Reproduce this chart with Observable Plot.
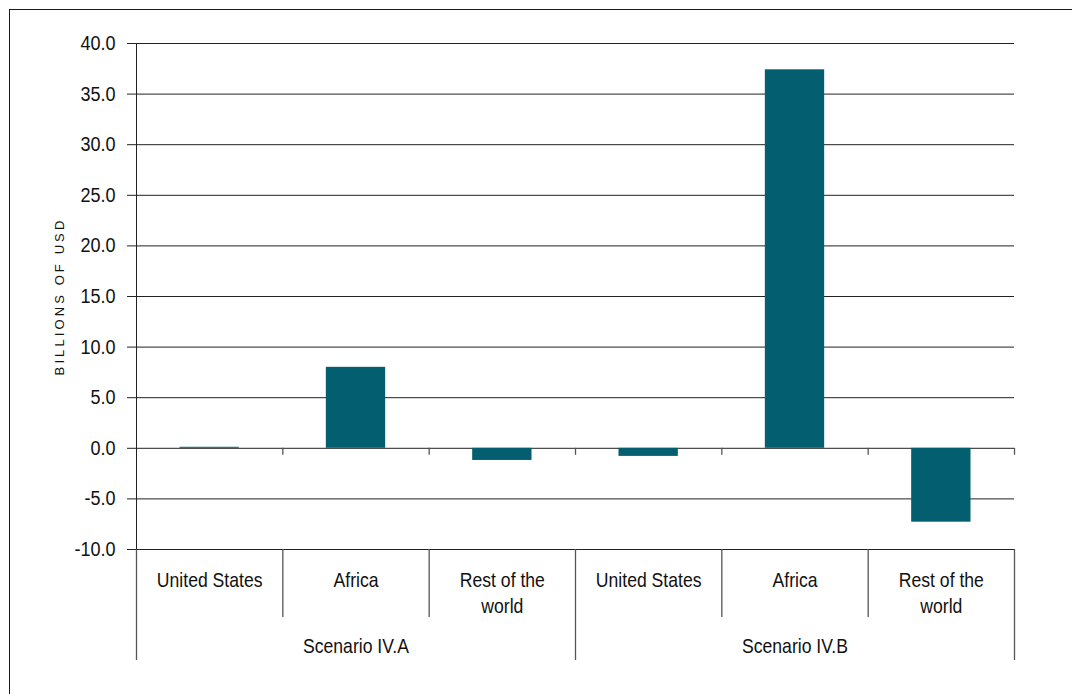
<!DOCTYPE html>
<html>
<head>
<meta charset="utf-8">
<script src="https://cdn.jsdelivr.net/npm/d3@7"></script>
<script src="https://cdn.jsdelivr.net/npm/@observablehq/plot@0.6"></script>
<style>
  html, body { margin: 0; padding: 0; background: #fff; overflow: hidden; }
  #wrap { position: relative; width: 1072px; height: 694px; }
  #border { position: absolute; left: 9px; top: 9px; width: 2000px; height: 2000px;
            border: 1.6px solid #1a1a1a; pointer-events: none; box-sizing: border-box; }
</style>
</head>
<body>
<div id="wrap"><div id="border"></div></div>
<script>
const scenarios = ["Scenario IV.A", "Scenario IV.B"];
const regions = ["United States", "Africa", "Rest of the\nworld"];
const valuesA = [0.1, 8.0, -1.2];
const valuesB = [-0.8, 37.4, -7.3];
const yTicks = [-10, -5, 0, 5, 10, 15, 20, 25, 30, 35, 40];
const yTitle = "BILLIONS OF USD";
const barColor = "#035f70";

const rows = [];
[valuesA, valuesB].forEach((vals, s) => {
  vals.forEach((v, r) => {
    rows.push({i: s * regions.length + r, scenario: scenarios[s], region: regions[r], value: v});
  });
});
const n = rows.length;
const boundaries = d3.range(0, n + 1);
const innerBounds = boundaries.filter(b => b % regions.length !== 0);
const groupBounds = boundaries.filter(b => b % regions.length === 0);
const centers = rows.map(d => d.i + 0.5);
const groupCenters = scenarios.map((s, k) => k * regions.length + regions.length / 2);

const font = '"Liberation Sans", Arial, sans-serif';

const chart = Plot.plot({
  width: 1072,
  height: 694,
  marginLeft: 136,
  marginRight: 58,
  marginTop: 43,
  marginBottom: 145,
  style: {fontFamily: font, fontSize: "20px", color: "#111", background: "transparent"},
  x: {type: "linear", domain: [0, n], axis: null},
  y: {domain: [-10, 40], axis: null},
  marks: [
    Plot.gridY(yTicks, {stroke: "#222", strokeOpacity: 1, strokeWidth: 1}),
    Plot.axisY(yTicks, {anchor: "left", tickSize: 9, tickPadding: 12, stroke: "#222",
      tickFormat: d => d.toFixed(1), fontSize: 20.5, label: null}),
    Plot.ruleX([0], {stroke: "#222", strokeWidth: 1}),
    Plot.rectY(rows, {x1: "i", x2: d => d.i + 1, y: "value", fill: barColor,
      insetLeft: 43.5, insetRight: 43.5}),
    Plot.ruleX(boundaries.slice(1), {y1: 0, y2: 0, insetBottom: -7, stroke: "#555", strokeWidth: 1.3}),
    Plot.axisX(innerBounds, {anchor: "bottom", tickSize: 68, tickFormat: () => "", stroke: "#555", strokeWidth: 1.3, label: null}),
    Plot.axisX(groupBounds, {anchor: "bottom", tickSize: 111, tickFormat: () => "", stroke: "#555", strokeWidth: 1.3, label: null}),
    Plot.axisX(centers, {anchor: "bottom", tickSize: 0, tickPadding: 19.5, lineHeight: 1.3,
      tickFormat: (d, k) => rows[k].region, fontSize: 20, label: null}),
    Plot.axisX(groupCenters, {anchor: "bottom", tickSize: 0, tickPadding: 89,
      tickFormat: (d, k) => scenarios[k], fontSize: 20, label: null}),
    Plot.text([yTitle], {frameAnchor: "left", rotate: -90, dx: -77, text: d => d,
      textAnchor: "middle", fontSize: 13, fill: "#111"})
  ]
});
document.getElementById("wrap").prepend(chart);

// condensed look: squeeze glyphs horizontally around each label's anchor
d3.select(chart).selectAll("text").each(function () {
  const el = d3.select(this);
  if (this.textContent === yTitle) {
    el.style("letter-spacing", "3.1px");
    return;
  }
  const t = el.attr("transform");
  if (t) el.attr("transform", t + " scale(0.88,1)");
});
</script>
</body>
</html>
